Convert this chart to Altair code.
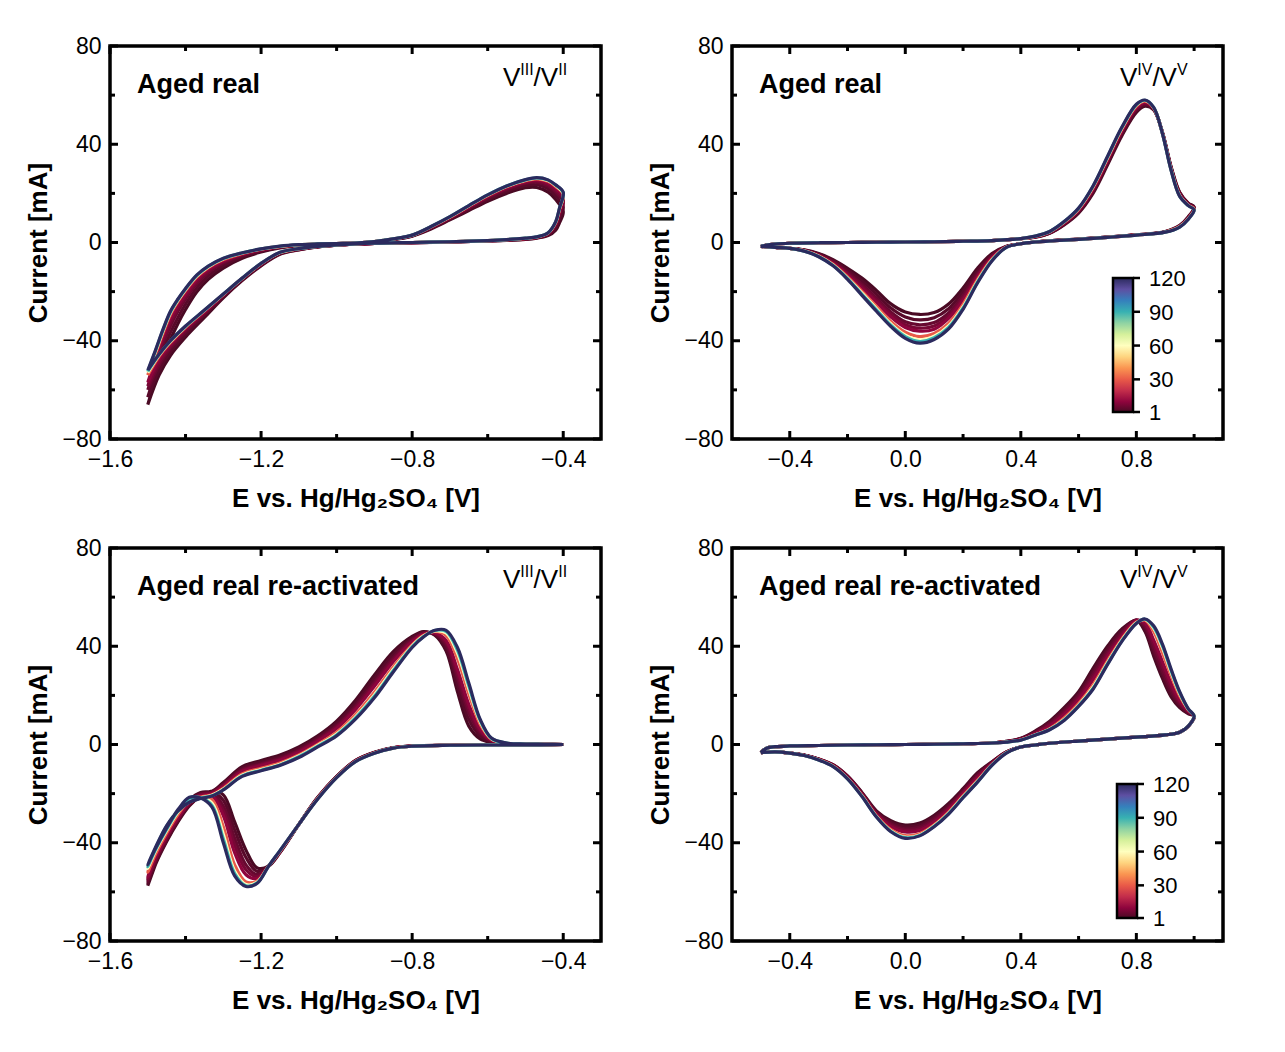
import altair as alt
import pandas as pd

# ---------------- cycles drawn and colour map ----------------
CYCLES = [1, 3, 5, 7, 10, 30, 60, 90, 120]
COLOR_STOPS = [1, 12, 24, 34, 44, 52, 60, 68, 76, 86, 98, 110, 120]
COLOR_HEX = ["#4a0a24", "#9e0142", "#d53e4f", "#f46d43", "#fdae61", "#fee08b",
             "#ffffbf", "#e6f598", "#abdda4", "#66c2a5", "#3288bd", "#5e4fa2", "#2b2a5e"]
COLORBAR_TICKS = [1, 30, 60, 90, 120]

# ---------------- top-left: aged real, V(III)/V(II) ----------------
TL_E_FWD = [-1.50, -1.48, -1.46, -1.44, -1.42, -1.40, -1.37, -1.34, -1.30, -1.25, -1.20, -1.15,
            -1.10, -1.05, -1.00, -0.95, -0.90, -0.85, -0.80, -0.75, -0.70, -0.65, -0.60, -0.55,
            -0.50, -0.47, -0.44, -0.42, -0.40]
TL_FWD = {
    1: [-66, -56, -47, -39.5, -33, -27.3, -20.1, -15, -10.4, -6.4, -3.9, -2.2, -1.3, -0.8, -0.5, -0.3,
        0.2, 1.2, 2.6, 5.5, 9.2, 13.0, 16.8, 20.0, 22.3, 22.4, 20.5, 17.5, 12.5],
    3: [-63, -53.2, -44.2, -36.7, -30.5, -25.1, -18.4, -13.6, -9.4, -5.8, -3.5, -2.0, -1.2, -0.75, -0.48, -0.28,
        0.25, 1.25, 2.7, 5.8, 9.5, 13.5, 17.5, 20.8, 23.2, 23.5, 21.8, 19.0, 14.5],
    5: [-60, -50.5, -41.5, -34, -28, -23, -16.8, -12.3, -8.4, -5.3, -3.2, -1.8, -1.1, -0.7, -0.45, -0.25,
        0.3, 1.3, 2.8, 6.0, 9.8, 14.0, 18.2, 21.6, 24.0, 24.5, 23.0, 20.5, 16.5],
    7: [-58.5, -49, -40, -32.5, -26.8, -22, -15.9, -11.6, -7.9, -5.0, -3.0, -1.75, -1.05, -0.68, -0.44, -0.24,
        0.32, 1.35, 2.85, 6.1, 9.95, 14.2, 18.5, 22.0, 24.4, 25.0, 23.6, 21.2, 17.5],
    10: [-57, -47.5, -38.5, -31, -25.5, -21, -15, -11, -7.5, -4.8, -2.9, -1.7, -1.0, -0.65, -0.42, -0.22,
         0.35, 1.4, 2.9, 6.2, 10.1, 14.5, 18.8, 22.3, 24.8, 25.4, 24.2, 22.0, 18.5],
    30: [-54, -45.5, -37, -29.3, -24, -19.6, -14, -10.2, -6.9, -4.5, -2.7, -1.6, -0.95, -0.62, -0.41, -0.21,
         0.38, 1.45, 2.95, 6.4, 10.3, 14.8, 19.1, 22.7, 25.2, 25.9, 24.9, 22.8, 19.6],
    60: [-53, -44.7, -36.2, -28.6, -23.5, -19.1, -13.6, -9.9, -6.6, -4.3, -2.65, -1.55, -0.92, -0.61, -0.4, -0.2,
         0.39, 1.48, 2.98, 6.45, 10.4, 14.9, 19.3, 22.9, 25.4, 26.2, 25.2, 23.2, 20.0],
    90: [-52.5, -44.3, -35.8, -28.3, -23.2, -18.9, -13.4, -9.7, -6.5, -4.25, -2.62, -1.52, -0.91, -0.6, -0.4, -0.2,
         0.4, 1.5, 3.0, 6.5, 10.5, 15.0, 19.4, 23.0, 25.5, 26.3, 25.4, 23.4, 20.3],
    120: [-52, -44, -35.5, -28, -23, -18.7, -13.2, -9.6, -6.4, -4.2, -2.6, -1.5, -0.9, -0.6, -0.4, -0.2,
          0.4, 1.5, 3.0, 6.5, 10.5, 15.0, 19.4, 23.0, 25.6, 26.4, 25.5, 23.5, 20.5],
}
TL_E_REV = [-0.41, -0.42, -0.44, -0.47, -0.50, -0.55, -0.60, -0.70, -0.80, -0.90, -1.00, -1.05,
            -1.10, -1.15, -1.20, -1.25, -1.30, -1.35, -1.40, -1.44, -1.47, -1.50]
TL_REV = {
    1: [8.0, 5.0, 2.8, 1.8, 1.3, 0.9, 0.6, 0.2, -0.1, -0.4, -1.1, -1.8, -3.0, -4.8, -9.5, -15.5, -22.5,
        -30.5, -38.5, -46.0, -54.0, -66],
    3: [9.5, 5.9, 3.1, 1.9, 1.4, 0.95, 0.65, 0.22, -0.08, -0.38, -1.08, -1.75, -2.9, -4.6, -9.2, -15.2, -22.1,
        -29.7, -37.4, -44.5, -52.0, -63],
    5: [11, 6.8, 3.4, 2.0, 1.5, 1.0, 0.7, 0.25, -0.05, -0.35, -1.05, -1.7, -2.8, -4.4, -9.0, -15.0, -21.8,
        -29.0, -36.3, -43.0, -50.0, -60],
    7: [11.8, 7.2, 3.55, 2.05, 1.55, 1.05, 0.72, 0.26, -0.04, -0.34, -1.04, -1.68, -2.7, -4.3, -8.9, -14.8, -21.5,
        -28.6, -35.6, -42.2, -48.7, -58.5],
    10: [12.5, 7.6, 3.7, 2.1, 1.6, 1.1, 0.75, 0.28, -0.02, -0.32, -1.02, -1.65, -2.6, -4.2, -8.8, -14.7, -21.3,
         -28.2, -35.0, -41.5, -47.5, -57],
    30: [13.4, 8.1, 3.9, 2.2, 1.7, 1.15, 0.78, 0.3, 0.0, -0.3, -1.0, -1.6, -2.55, -4.1, -8.6, -14.6, -21.1,
         -27.8, -34.5, -40.7, -46.3, -54],
    60: [13.7, 8.3, 3.95, 2.25, 1.75, 1.18, 0.79, 0.3, 0.0, -0.3, -1.0, -1.6, -2.52, -4.05, -8.55, -14.55, -21.05,
         -27.6, -34.2, -40.3, -45.8, -53],
    90: [13.9, 8.4, 4.0, 2.3, 1.8, 1.2, 0.8, 0.3, 0.0, -0.3, -1.0, -1.6, -2.5, -4.02, -8.52, -14.52, -21.02,
         -27.55, -34.1, -40.1, -45.6, -52.5],
    120: [14, 8.5, 4.0, 2.3, 1.8, 1.2, 0.8, 0.3, 0.0, -0.3, -1.0, -1.6, -2.5, -4.0, -8.5, -14.5, -21.0,
          -27.5, -34.0, -40.0, -45.5, -52],
}

# ---------------- top-right: aged real, V(IV)/V(V) ----------------
TR_E_FWD = [-0.50, -0.48, -0.45, -0.40, -0.30, -0.20, -0.10, 0.00, 0.10, 0.20, 0.30, 0.40,
            0.45, 0.50, 0.55, 0.60, 0.65, 0.70, 0.75, 0.80, 0.83, 0.86, 0.89, 0.92, 0.95, 0.98, 1.00]
TR_FWD_BASE = [-1.6, -1.0, -0.6, -0.3, -0.1, 0.0, 0.1, 0.2, 0.3, 0.5, 0.8, 1.6]
TR_FWD_PEAK = {
    1: [2.2, 3.8, 7.2, 12.0, 20.0, 31.5, 43.5, 53.0, 55.5, 54.0, 45.0, 31.0, 20.5, 16.0, 14.5],
    3: [2.25, 3.9, 7.4, 12.4, 20.6, 32.2, 44.2, 53.6, 56.0, 54.2, 44.9, 30.7, 20.2, 15.8, 14.3],
    5: [2.3, 4.0, 7.6, 12.7, 21.1, 32.8, 44.8, 54.2, 56.4, 54.4, 44.8, 30.5, 19.9, 15.6, 14.1],
    7: [2.35, 4.1, 7.75, 12.95, 21.4, 33.2, 45.2, 54.6, 56.7, 54.5, 44.7, 30.3, 19.7, 15.5, 13.9],
    10: [2.4, 4.2, 7.9, 13.2, 21.7, 33.5, 45.5, 54.9, 57.0, 54.6, 44.7, 30.2, 19.5, 15.4, 13.8],
    30: [2.5, 4.4, 8.2, 13.6, 22.3, 34.2, 46.2, 55.5, 57.5, 54.8, 44.6, 29.8, 19.1, 15.2, 13.6],
    60: [2.6, 4.4, 8.4, 13.8, 22.7, 34.6, 46.6, 55.9, 57.8, 54.9, 44.5, 29.7, 19.0, 15.1, 13.4],
    90: [2.6, 4.5, 8.5, 13.9, 22.9, 34.8, 46.8, 56.1, 57.9, 55.0, 44.5, 29.6, 18.9, 15.0, 13.3],
    120: [2.6, 4.5, 8.5, 14.0, 23.0, 35.0, 47.0, 56.3, 58.0, 55.0, 44.5, 29.5, 18.8, 15.0, 13.3],
}
TR_E_REV = [0.98, 0.95, 0.90, 0.80, 0.70, 0.60, 0.50, 0.45, 0.40, 0.35, 0.30, 0.25, 0.20, 0.15,
            0.10, 0.05, 0.00, -0.05, -0.10, -0.15, -0.20, -0.25, -0.30, -0.35, -0.40, -0.45, -0.50]
TR_REV = {
    1: [10.5, 7.0, 4.5, 3.1, 2.2, 1.4, 0.7, 0.2, -0.5, -1.5, -4.5, -10.5, -18.5, -25.0, -28.5, -29.3,
        -28.3, -25.0, -19.5, -14.5, -10.5, -7.0, -4.5, -3.0, -2.4, -2.0, -1.6],
    3: [10.3, 6.8, 4.4, 3.1, 2.2, 1.4, 0.7, 0.2, -0.5, -1.6, -5.0, -11.6, -20.0, -27.0, -30.6, -31.5,
        -30.3, -26.7, -21.0, -15.7, -11.3, -7.4, -4.7, -3.1, -2.4, -2.0, -1.6],
    5: [10.1, 6.7, 4.4, 3.1, 2.2, 1.4, 0.7, 0.2, -0.5, -1.7, -5.6, -12.7, -21.6, -28.7, -32.6, -33.5,
        -32.3, -28.3, -22.6, -17.0, -12.1, -7.9, -5.0, -3.2, -2.4, -2.0, -1.6],
    7: [10.0, 6.6, 4.3, 3.0, 2.1, 1.3, 0.6, 0.2, -0.5, -1.75, -5.9, -13.4, -22.6, -29.9, -34.0, -34.9,
        -33.5, -29.3, -23.5, -17.8, -12.6, -8.2, -5.1, -3.2, -2.4, -2.0, -1.6],
    10: [9.9, 6.6, 4.3, 3.0, 2.1, 1.3, 0.6, 0.2, -0.5, -1.8, -6.2, -14.0, -23.5, -30.9, -35.3, -36.1,
         -34.6, -30.3, -24.4, -18.6, -13.1, -8.5, -5.3, -3.3, -2.4, -2.0, -1.6],
    30: [9.7, 6.5, 4.3, 3.0, 2.1, 1.3, 0.6, 0.2, -0.5, -1.9, -6.8, -15.1, -25.2, -32.9, -37.0, -38.3,
         -36.5, -32.1, -26.0, -19.9, -14.0, -8.9, -5.5, -3.4, -2.4, -2.0, -1.6],
    60: [9.6, 6.4, 4.2, 3.0, 2.1, 1.3, 0.6, 0.2, -0.5, -1.95, -7.1, -15.8, -26.2, -34.0, -38.2, -39.6,
         -37.7, -33.1, -26.9, -20.6, -14.5, -9.2, -5.6, -3.4, -2.4, -2.0, -1.6],
    90: [9.5, 6.3, 4.2, 3.0, 2.1, 1.3, 0.6, 0.2, -0.5, -2.0, -7.3, -16.1, -26.7, -34.6, -38.8, -40.3,
         -38.3, -33.7, -27.4, -21.1, -14.7, -9.4, -5.7, -3.5, -2.4, -2.0, -1.6],
    120: [9.5, 6.3, 4.2, 3.0, 2.1, 1.3, 0.6, 0.2, -0.5, -2.0, -7.5, -16.5, -27.2, -35.2, -39.5, -41.0,
          -39.0, -34.2, -28.0, -21.5, -15.0, -9.5, -5.8, -3.5, -2.4, -2.0, -1.6],
}

# ---------------- bottom-left: re-activated, V(III)/V(II) ----------------
BL_E_CAT = [-0.40, -0.50, -0.60, -0.70, -0.80, -0.85, -0.90, -0.95, -1.00, -1.05, -1.10, -1.15,
            -1.18, -1.21, -1.24, -1.27, -1.30, -1.33, -1.36, -1.39, -1.42, -1.45, -1.48, -1.50]
BL_CAT = {
    1: [0.0, -0.2, -0.2, -0.3, -0.6, -1.3, -3.2, -6.5, -13.0, -21.5, -32.5, -44.0, -49.5, -50.3,
        -43.0, -31.5, -20.5, -19.0, -21.0, -25.0, -31.5, -39.5, -49.0, -57.5],
    3: [0.0, -0.2, -0.2, -0.3, -0.61, -1.32, -3.25, -6.55, -13.05, -21.6, -32.5, -43.9, -49.5, -51.7,
        -46.0, -34.7, -22.7, -19.5, -21.1, -24.6, -31.0, -39.0, -48.3, -56.5],
    5: [0.0, -0.2, -0.2, -0.3, -0.62, -1.35, -3.3, -6.6, -13.1, -21.7, -32.5, -43.8, -49.5, -53.0,
        -49.0, -38.0, -25.0, -20.0, -21.2, -24.3, -30.5, -38.3, -47.5, -55.5],
    7: [0.0, -0.2, -0.2, -0.3, -0.63, -1.37, -3.35, -6.7, -13.2, -21.8, -32.5, -43.7, -49.5, -53.8,
        -51.0, -41.0, -27.0, -20.5, -21.25, -24.0, -30.1, -37.8, -46.9, -54.8],
    10: [0.0, -0.2, -0.2, -0.3, -0.65, -1.4, -3.4, -6.75, -13.25, -21.85, -32.5, -43.6, -49.5, -54.5,
         -53.0, -44.0, -29.0, -21.0, -21.3, -23.8, -29.8, -37.3, -46.3, -54.0],
    30: [0.0, -0.2, -0.2, -0.3, -0.68, -1.45, -3.5, -6.9, -13.4, -22.0, -32.5, -43.4, -49.5, -55.5,
         -56.0, -49.0, -33.5, -22.5, -21.5, -23.0, -28.5, -36.0, -44.8, -52.0],
    60: [0.0, -0.2, -0.2, -0.3, -0.7, -1.5, -3.55, -6.95, -13.45, -22.1, -32.5, -43.3, -49.5, -56.0,
         -57.0, -51.5, -36.5, -23.8, -21.6, -22.3, -27.5, -35.0, -43.5, -50.5],
    90: [0.0, -0.2, -0.2, -0.3, -0.7, -1.5, -3.6, -7.0, -13.5, -22.2, -32.5, -43.2, -49.5, -56.3,
         -57.5, -52.5, -38.5, -24.8, -21.7, -21.8, -27.0, -34.5, -43.0, -49.8],
    120: [0.0, -0.2, -0.2, -0.3, -0.7, -1.5, -3.6, -7.0, -13.5, -22.2, -32.5, -43.2, -49.5, -56.5,
          -57.8, -53.5, -40.0, -25.5, -21.8, -21.5, -26.5, -34.0, -42.5, -49.0],
}
BL_E_AN = [-1.48, -1.45, -1.42, -1.39, -1.36, -1.33, -1.30, -1.25, -1.20, -1.15, -1.10, -1.05, -1.00,
           -0.95, -0.90, -0.85, -0.80, -0.77, -0.74, -0.71, -0.68, -0.65, -0.62, -0.59, -0.55, -0.50,
           -0.45, -0.40]
BL_AN = {
    1: [-49.0, -37.0, -28.0, -22.5, -19.5, -19.0, -15.5, -9.0, -6.5, -4.3, -1.0, 3.5, 9.5, 18.0, 28.3,
        37.8, 44.0, 46.0, 44.5, 38.0, 21.5, 7.5, 2.3, 0.9, 0.3, 0.2, 0.1, 0.0],
    3: [-48.0, -36.4, -27.85, -22.65, -19.85, -19.3, -15.95, -9.6, -7.15, -4.95, -1.65, 2.85, 8.6, 16.85,
        26.9, 36.55, 43.35, 45.65, 44.8, 39.3, 24.2, 10.15, 3.5, 1.15, 0.35, 0.2, 0.1, 0.0],
    5: [-46.9, -35.8, -27.7, -22.8, -20.2, -19.6, -16.4, -10.2, -7.8, -5.6, -2.3, 2.2, 7.7, 15.7, 25.5,
        35.3, 42.7, 45.3, 45.1, 40.6, 26.9, 12.8, 4.7, 1.4, 0.4, 0.2, 0.1, 0.0],
    7: [-46.2, -35.4, -27.6, -22.9, -20.5, -19.8, -16.7, -10.6, -8.2, -6.0, -2.75, 1.75, 7.1, 14.95,
        24.6, 34.5, 42.25, 45.1, 45.3, 41.45, 28.7, 14.55, 5.5, 1.6, 0.42, 0.2, 0.1, 0.0],
    10: [-45.5, -35.0, -27.5, -23.0, -20.8, -20.0, -17.0, -11.0, -8.6, -6.4, -3.2, 1.3, 6.5, 14.2, 23.7,
         33.7, 41.8, 44.9, 45.5, 42.3, 30.5, 16.3, 6.3, 1.8, 0.45, 0.2, 0.1, 0.0],
    30: [-43.8, -34.0, -27.3, -23.3, -21.4, -20.5, -17.8, -12.0, -9.7, -7.5, -4.2, 0.1, 5.0, 12.2, 21.3,
         31.6, 40.6, 44.4, 46.0, 44.4, 35.0, 20.6, 8.3, 2.2, 0.5, 0.2, 0.1, 0.0],
    60: [-42.9, -33.5, -27.1, -23.4, -21.7, -20.7, -18.2, -12.5, -10.2, -8.0, -4.7, -0.4, 4.3, 11.3, 20.2,
         30.6, 40.1, 44.1, 46.2, 45.4, 37.2, 22.7, 9.3, 2.4, 0.55, 0.2, 0.1, 0.0],
    90: [-42.4, -33.2, -27.1, -23.4, -21.8, -20.9, -18.4, -12.8, -10.5, -8.3, -5.0, -0.7, 3.9, 10.8, 19.6,
         30.0, 39.8, 43.9, 46.4, 46.0, 38.4, 23.9, 9.8, 2.5, 0.6, 0.2, 0.1, 0.0],
    120: [-42.0, -33.0, -27.0, -23.5, -22.0, -21.0, -18.5, -13.0, -10.7, -8.5, -5.3, -1.0, 3.5, 10.3, 19.0,
          29.5, 39.5, 43.8, 46.5, 46.5, 39.5, 25.0, 10.3, 2.6, 0.6, 0.2, 0.1, 0.0],
}

# ---------------- bottom-right: re-activated, V(IV)/V(V) ----------------
BR_E_FWD = [-0.50, -0.48, -0.45, -0.40, -0.30, -0.20, -0.10, 0.00, 0.10, 0.20, 0.30, 0.35, 0.40, 0.45,
            0.50, 0.55, 0.60, 0.65, 0.70, 0.75, 0.80, 0.83, 0.86, 0.89, 0.92, 0.95, 0.98, 1.00]
BR_FWD_BASE = [-3.3, -1.5, -0.9, -0.6, -0.4, -0.2, -0.1, 0.0, 0.1, 0.3, 0.6]
BR_FWD_PEAK = {
    1: [1.3, 2.5, 5.5, 9.5, 15.0, 21.5, 31.0, 40.0, 47.0, 50.5, 46.0, 36.0, 27.0, 19.5, 15.0, 12.5, 11.6],
    3: [1.25, 2.4, 5.2, 9.0, 14.3, 20.6, 29.8, 38.9, 46.3, 50.6, 47.0, 37.5, 28.5, 20.7, 15.7, 12.8, 11.6],
    5: [1.2, 2.3, 4.9, 8.5, 13.6, 19.8, 28.6, 37.8, 45.5, 50.7, 48.0, 39.0, 30.0, 22.0, 16.5, 13.2, 11.6],
    7: [1.15, 2.2, 4.65, 8.0, 12.9, 19.0, 27.4, 36.8, 44.8, 50.6, 48.8, 40.8, 31.9, 23.5, 17.2, 13.4, 11.6],
    10: [1.1, 2.1, 4.4, 7.5, 12.2, 18.2, 26.3, 35.8, 44.0, 50.4, 49.6, 42.5, 33.8, 25.0, 18.0, 13.6, 11.6],
    30: [1.05, 1.9, 4.0, 6.5, 10.8, 16.7, 24.2, 34.0, 43.0, 49.8, 50.6, 46.0, 37.5, 28.2, 19.8, 14.1, 11.6],
    60: [1.0, 1.85, 3.9, 6.2, 10.2, 16.0, 23.3, 33.2, 42.5, 49.5, 50.9, 47.3, 39.5, 29.5, 20.7, 14.3, 11.6],
    90: [1.0, 1.8, 3.85, 6.1, 10.0, 15.7, 22.8, 32.8, 42.2, 49.4, 51.0, 47.8, 40.3, 30.2, 21.1, 14.4, 11.6],
    120: [1.0, 1.8, 3.8, 6.0, 9.8, 15.5, 22.5, 32.5, 42.0, 49.3, 51.1, 48.3, 41.0, 30.8, 21.5, 14.5, 11.6],
}
BR_E_REV = [0.98, 0.95, 0.90, 0.80, 0.70, 0.60, 0.50, 0.45, 0.40, 0.35, 0.30, 0.25, 0.20, 0.15,
            0.10, 0.05, 0.00, -0.05, -0.10, -0.15, -0.20, -0.25, -0.30, -0.35, -0.40, -0.45, -0.50]
BR_REV_BASE = [7.5, 5.0, 3.9, 3.0, 2.2, 1.4, 0.5, -0.2, -1.0]
BR_REV_PEAK = {
    1: [-3.0, -7.0, -11.5, -18.0, -24.0, -28.8, -32.0, -32.8, -31.0, -27.0, -19.5, -12.8, -8.2, -5.9,
        -4.3, -3.5, -3.0, -3.3],
    3: [-3.05, -7.2, -12.0, -18.6, -24.7, -29.5, -32.8, -33.5, -31.6, -27.4, -19.7, -12.9, -8.3, -5.95,
        -4.35, -3.5, -3.0, -3.3],
    5: [-3.1, -7.4, -12.6, -19.2, -25.4, -30.3, -33.6, -34.3, -32.3, -27.8, -20.0, -13.1, -8.4, -6.0,
        -4.4, -3.5, -3.0, -3.3],
    7: [-3.15, -7.6, -13.1, -19.6, -25.9, -31.0, -34.3, -34.9, -32.8, -28.1, -20.2, -13.2, -8.5, -6.05,
        -4.4, -3.5, -3.0, -3.3],
    10: [-3.2, -7.8, -13.6, -20.0, -26.5, -31.6, -35.0, -35.6, -33.4, -28.4, -20.4, -13.4, -8.6, -6.1,
         -4.4, -3.5, -3.0, -3.3],
    30: [-3.35, -8.2, -14.6, -20.9, -27.5, -32.7, -36.3, -37.1, -34.6, -29.0, -20.8, -13.8, -8.8, -6.2,
         -4.5, -3.5, -3.0, -3.3],
    60: [-3.4, -8.35, -15.0, -21.3, -27.9, -33.1, -36.8, -37.7, -35.1, -29.3, -21.0, -13.9, -8.9, -6.25,
         -4.5, -3.5, -3.0, -3.3],
    90: [-3.45, -8.45, -15.2, -21.5, -28.1, -33.3, -37.0, -37.9, -35.3, -29.4, -21.1, -13.95, -8.95, -6.3,
         -4.5, -3.5, -3.0, -3.3],
    120: [-3.5, -8.5, -15.3, -21.7, -28.3, -33.5, -37.2, -38.2, -35.5, -29.5, -21.2, -14.0, -9.0, -6.3,
          -4.5, -3.5, -3.0, -3.3],
}

# ---------------- axes ----------------
V3_X_MAJOR = [-1.6, -1.2, -0.8, -0.4]
V3_X_MINOR = [-1.4, -1.0, -0.6]
V3_X_DOMAIN = [-1.6, -0.3]
V4_X_MAJOR = [-0.4, 0.0, 0.4, 0.8]
V4_X_MINOR = [-0.2, 0.2, 0.6, 1.0]
V4_X_DOMAIN = [-0.6, 1.1]
Y_MAJOR = [-80, -40, 0, 40, 80]
Y_MINOR = [-60, -20, 20, 60]
Y_DOMAIN = [-80, 80]

W, H = 491, 393
FONT = "Liberation Sans"
X_TITLE = "E vs. Hg/Hg\u2082SO\u2084 [V]"
Y_TITLE = "Current [mA]"
CB_LEN, CB_THICK = 134, 20


def loop_table(e_first, i_first, e_second, i_second):
    rows = []
    for c in CYCLES:
        es = list(e_first) + list(e_second)
        vs = list(i_first[c]) + list(i_second[c])
        for k, (e, v) in enumerate(zip(es, vs)):
            rows.append({"E": e, "I": v, "cycle": c, "idx": k})
    return pd.DataFrame(rows)


def text_layer(txt, px, py, size, weight="normal", baseline="alphabetic"):
    return alt.Chart(pd.DataFrame({"t": [txt]})).mark_text(
        align="left", baseline=baseline, font=FONT, fontSize=size,
        fontWeight=weight, color="black"
    ).encode(x=alt.value(px), y=alt.value(py), text="t:N")


def panel(df, xdom, xmaj, xmin, label, ion, cb=None):
    xaxis = alt.Axis(values=xmaj, format=".1f", title=X_TITLE, ticks=False, domain=False,
                     grid=False, labelFlush=False, labelOverlap=False, labelPadding=9,
                     titlePadding=14)
    yaxis = alt.Axis(values=Y_MAJOR, format="d", title=Y_TITLE, ticks=False, domain=False,
                     grid=False, labelFlush=False, labelOverlap=False, labelPadding=9,
                     titlePadding=10)
    X = alt.X("E:Q", scale=alt.Scale(domain=xdom, nice=False, zero=False), axis=xaxis)
    Y = alt.Y("I:Q", scale=alt.Scale(domain=Y_DOMAIN, nice=False, zero=False), axis=yaxis)
    if cb is None:
        legend = None
    else:
        legend = alt.Legend(orient="none", legendX=cb[0], legendY=cb[1], direction="vertical",
                            gradientLength=CB_LEN, gradientThickness=CB_THICK, title=None,
                            labelOpacity=0, labelFontSize=8, values=COLORBAR_TICKS,
                            gradientStrokeColor="black", gradientStrokeWidth=2.5,
                            padding=0)
    color = alt.Color("cycle:Q",
                      scale=alt.Scale(domain=COLOR_STOPS, range=COLOR_HEX, zero=False, nice=False),
                      legend=legend)
    lines = alt.Chart(df).mark_line(strokeWidth=3.2, interpolate="catmull-rom", clip=True).encode(
        x=X, y=Y, color=color, detail="cycle:N", order="idx:Q")

    layers = [lines]
    for vals, ln in ((xmaj, 8), (xmin, 5)):
        d = pd.DataFrame({"E": vals})
        layers.append(alt.Chart(d).mark_rule(color="black", strokeWidth=3).encode(
            x=X, y=alt.value(H), y2=alt.value(H - ln)))
        layers.append(alt.Chart(d).mark_rule(color="black", strokeWidth=3).encode(
            x=X, y=alt.value(0), y2=alt.value(ln)))
    for vals, ln in ((Y_MAJOR, 8), (Y_MINOR, 5)):
        d = pd.DataFrame({"I": vals})
        layers.append(alt.Chart(d).mark_rule(color="black", strokeWidth=3).encode(
            y=Y, x=alt.value(0), x2=alt.value(ln)))
        layers.append(alt.Chart(d).mark_rule(color="black", strokeWidth=3).encode(
            y=Y, x=alt.value(W), x2=alt.value(W - ln)))

    layers.append(text_layer(label, 27, 47, 27, "bold"))
    x0 = 393 if ion == "V3" else 388
    sup1, sup2 = ("III", "II") if ion == "V3" else ("IV", "V")
    w1 = 13.3 if ion == "V3" else 15.1
    layers.append(text_layer("V", x0, 40, 26))
    layers.append(text_layer(sup1, x0 + 17.3, 29, 16))
    layers.append(text_layer("/V", x0 + 17.3 + w1, 40, 26))
    layers.append(text_layer(sup2, x0 + 17.3 + w1 + 24.6, 29, 16))

    if cb is not None:
        # colour-bar tick marks and labels beside the gradient legend
        bx, by = cb
        right = bx + CB_THICK
        for v in COLORBAR_TICKS:
            ty = by + CB_LEN - (v - 1) / (COLORBAR_TICKS[-1] - 1) * CB_LEN
            layers.append(alt.Chart(pd.DataFrame({"v": [v]})).mark_rule(
                color="black", strokeWidth=2.5).encode(
                x=alt.value(right), x2=alt.value(right + 7), y=alt.value(ty)))
            layers.append(text_layer(str(v), right + 16, ty + 1, 22, baseline="middle"))
    return alt.layer(*layers).properties(width=W, height=H)


tr_first = {c: TR_FWD_BASE + TR_FWD_PEAK[c] for c in CYCLES}
br_first = {c: BR_FWD_BASE + BR_FWD_PEAK[c] for c in CYCLES}
br_second = {c: BR_REV_BASE + BR_REV_PEAK[c] for c in CYCLES}

tl = panel(loop_table(TL_E_FWD, TL_FWD, TL_E_REV, TL_REV), V3_X_DOMAIN, V3_X_MAJOR, V3_X_MINOR,
           "Aged real", "V3")
tr = panel(loop_table(TR_E_FWD, tr_first, TR_E_REV, TR_REV), V4_X_DOMAIN, V4_X_MAJOR, V4_X_MINOR,
           "Aged real", "V4", (381, 232))
bl = panel(loop_table(BL_E_CAT, BL_CAT, BL_E_AN, BL_AN), V3_X_DOMAIN, V3_X_MAJOR, V3_X_MINOR,
           "Aged real re-activated", "V3")
br = panel(loop_table(BR_E_FWD, br_first, BR_E_REV, br_second), V4_X_DOMAIN, V4_X_MAJOR, V4_X_MINOR,
           "Aged real re-activated", "V4", (385, 236))

chart = alt.vconcat(
    alt.hconcat(tl, tr, spacing=41).resolve_scale(color="independent").resolve_legend(color="independent"),
    alt.hconcat(bl, br, spacing=41).resolve_scale(color="independent").resolve_legend(color="independent"),
    spacing=22,
).resolve_scale(color="independent").resolve_legend(color="independent").properties(
    padding={"left": 24, "top": 33, "right": 5, "bottom": 5},
    background="white",
).configure_view(
    stroke="black", strokeWidth=3.5
).configure_axis(
    labelFont=FONT, titleFont=FONT, labelFontSize=23, titleFontSize=26,
    labelColor="black", titleColor="black", titleFontWeight="bold"
).configure_text(font=FONT)

chart.save("out.html", embed_options={"renderer": "svg", "actions": False})
